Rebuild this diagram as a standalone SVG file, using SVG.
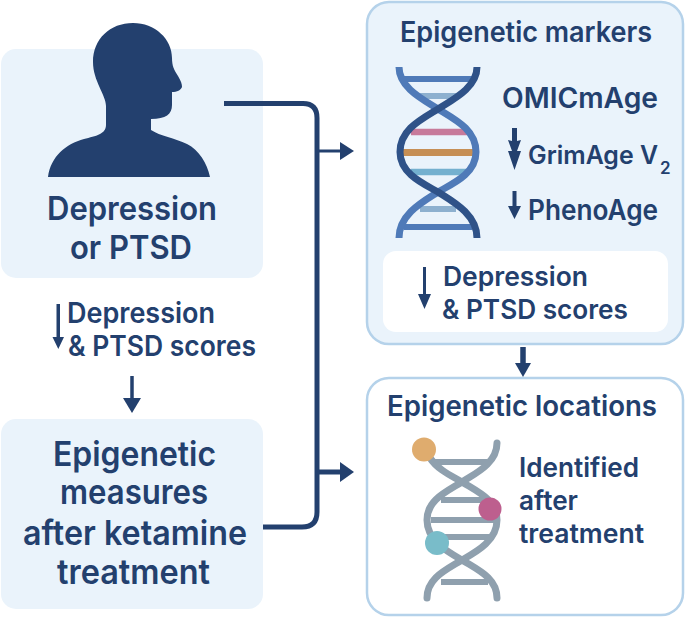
<svg xmlns="http://www.w3.org/2000/svg" width="685" height="617" viewBox="0 0 685 617">
<style>
text{font-family:Inter,"Liberation Sans",sans-serif;font-weight:600;fill:#23406e}
.box{fill:#eaf3fb}
.rbox{stroke:#b5d2ea;stroke-width:2.5}
.ink{fill:#23406e}
.conn{fill:none;stroke:#23406e}
.s1{fill:none;stroke:#4f7ab8;stroke-width:7}
.s1d{fill:none;stroke:#2f5288;stroke-width:7}
.s2{fill:none;stroke:#8fa0ae;stroke-width:7;stroke-linecap:round}
</style>
<rect width="685" height="617" fill="#fff"/>
<g id="node-depression">
<rect class="box" x="1" y="49" width="262" height="229" rx="15"/>
<path class="ink" d="M48 177C51 156 66 144 84 139C96 136 106 134 106 125L106 106C106 95 93 81 93 62C93 39 110 23 133 23C155 23 172 39 172 58C172 66 174 70 178 76C181 81 182 84 182 87C181 90 177 92 172 92L172 105C172 114 166 119 151 119L151 130C160 136 175 138 187 144C199 150 207 163 210 177Z"/>
<text x="47" y="220" font-size="33" textLength="170" lengthAdjust="spacingAndGlyphs">Depression</text>
<text x="70" y="259" font-size="33" textLength="122" lengthAdjust="spacingAndGlyphs">or PTSD</text>
</g>
<g id="node-scores">
<path class="ink" d="M56.500 304H60V337H64L58.300 349L52.500 337H56.500Z"/>
<text x="67" y="323" font-size="28" textLength="148" lengthAdjust="spacingAndGlyphs">Depression</text>
<text x="68" y="356" font-size="28" textLength="188" lengthAdjust="spacingAndGlyphs">&amp; PTSD scores</text>
</g>
<g id="node-measures">
<rect class="box" x="1" y="419" width="262" height="190" rx="15"/>
<text x="53" y="466" font-size="34" textLength="163" lengthAdjust="spacingAndGlyphs">Epigenetic</text>
<text x="60" y="504" font-size="34" textLength="148" lengthAdjust="spacingAndGlyphs">measures</text>
<text x="23" y="545" font-size="34" textLength="224" lengthAdjust="spacingAndGlyphs">after ketamine</text>
<text x="57" y="584" font-size="34" textLength="153" lengthAdjust="spacingAndGlyphs">treatment</text>
</g>
<g id="node-markers">
<rect class="box rbox" x="367" y="2" width="316" height="342" rx="22"/>
<text x="400" y="42" font-size="28" textLength="252" lengthAdjust="spacingAndGlyphs">Epigenetic markers</text>
<g id="dna-markers">
<path d="M404 79H472" stroke="#4f7ab8" stroke-width="6"/>
<path d="M420 96H456" stroke="#8db0cf" stroke-width="6"/>
<path d="M411 132H467" stroke="#c77a9a" stroke-width="6.500"/>
<path d="M403 152.500H473" stroke="#c68f55" stroke-width="7"/>
<path d="M411 172H467" stroke="#74b0cf" stroke-width="6.500"/>
<path d="M420 209H456" stroke="#8db0cf" stroke-width="6"/>
<path d="M404 227H472" stroke="#4f7ab8" stroke-width="6"/>
<path class="s1" d="M399 67C399 88 424 100 438 109C456 120 476 130 476 152C476 174 452 184 438 192C424 201 399 214 399 238"/>
<path class="s1d" d="M477 67C477 88 452 100 438 109C420 120 400 130 400 152C400 174 424 184 438 192C452 201 477 214 477 238"/>
</g>
<text x="502" y="108" font-size="28" textLength="156" lengthAdjust="spacingAndGlyphs">OMICmAge</text>
<path class="ink" d="M512 128H517V141L521 140L517 151L521 151L514.500 170L508 151L512 151L508 140L512 141Z"/>
<text x="528" y="164" font-size="25.500" textLength="130" lengthAdjust="spacingAndGlyphs">GrimAge V</text>
<text x="660" y="174" font-size="17">2</text>
<path class="ink" d="M512.500 191H516.500V206H521L514.500 219L508 206H512.500Z"/>
<text x="528" y="220" font-size="28" textLength="130" lengthAdjust="spacingAndGlyphs">PhenoAge</text>
<rect x="383" y="251" width="285" height="81" rx="13" fill="#fff"/>
<path class="ink" d="M423 267H426V294H431L424.500 309L418 294H423Z"/>
<text x="443" y="286" font-size="27" textLength="145" lengthAdjust="spacingAndGlyphs">Depression</text>
<text x="442" y="319" font-size="27" textLength="186" lengthAdjust="spacingAndGlyphs">&amp; PTSD scores</text>
</g>
<g id="node-locations">
<rect class="rbox" fill="#fff" x="367" y="378" width="316" height="237" rx="22"/>
<text x="387" y="416" font-size="28" textLength="270" lengthAdjust="spacingAndGlyphs">Epigenetic locations</text>
<g id="dna-locations">
<path d="M432 462H487M441 500H486M431 520H494M441 537H491M441 582H488" stroke="#8fa0ae" stroke-width="6" fill="none"/>
<path class="s2" d="M430 458C438 470 452 476 462 482C478 492 497 500 497 520C497 541 476 552 462 560C446 570 427 578 427 598"/>
<path class="s2" d="M497 443C497 464 474 474 462 482C446 492 427 500 427 520C427 541 448 552 462 560C478 570 497 578 497 598"/>
<circle cx="424" cy="449.500" r="12" fill="#dfac6e"/>
<circle cx="490" cy="509" r="11.500" fill="#bd5f8e"/>
<circle cx="437" cy="543" r="12" fill="#79bcc9"/>
</g>
<text x="519" y="477" font-size="27" textLength="120" lengthAdjust="spacingAndGlyphs">Identified</text>
<text x="519" y="510" font-size="27" textLength="59" lengthAdjust="spacingAndGlyphs">after</text>
<text x="519" y="543" font-size="27" textLength="125" lengthAdjust="spacingAndGlyphs">treatment</text>
</g>
<g id="connectors">
<path class="conn" stroke-width="5" d="M224 103.500H303Q317 103.500 317 118V512Q317 527 302 527H263"/>
<path class="conn" stroke-width="3" d="M318 151H342"/>
<path class="ink" d="M340 142L354 151L340 160Z"/>
<path class="conn" stroke-width="5" d="M318 472H342"/>
<path class="ink" d="M340 462L354 472L340 482Z"/>
<path class="conn" stroke-width="3.500" d="M132 376V400"/>
<path class="ink" d="M123 398H141L132 413Z"/>
<path class="conn" stroke-width="5.500" d="M523 347V366"/>
<path class="ink" d="M515 363H531L523 377Z"/>
</g>
</svg>
